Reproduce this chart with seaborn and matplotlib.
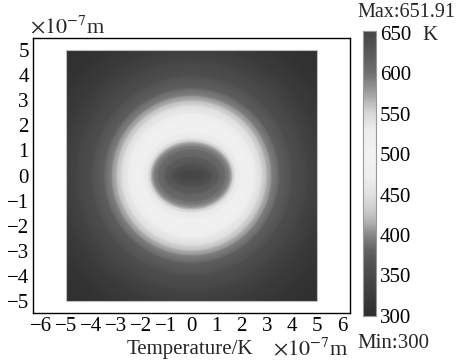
import numpy as np
import matplotlib
matplotlib.use('Agg')
import matplotlib.pyplot as plt
import seaborn as sns
from matplotlib.colors import LinearSegmentedColormap
from matplotlib.patches import Rectangle

# =========================
# DATA
# =========================

# temperature levels (K) from the hot centre outwards, with the
# half-width (x) and half-height (y) of each level, in 1e-7 m
temp_levels = [651, 645, 632, 615, 600, 590, 575, 555, 535, 515, 495,
               470, 445, 420, 400, 380, 360, 340, 322, 310, 302]
half_width = [0.0, 0.45, 0.8, 1.1, 1.35, 1.5, 1.58, 1.65, 1.75, 1.95, 2.25,
              2.55, 2.8, 3.0, 3.2, 3.5, 4.0, 4.6, 5.2, 6.0, 7.2]
half_height = [0.0, 0.2, 0.45, 0.75, 1.05, 1.2, 1.3, 1.38, 1.5, 1.75, 2.1,
               2.5, 2.8, 3.0, 3.2, 3.5, 4.0, 4.6, 5.2, 6.0, 7.2]

t_min = 300
t_max = 651.91
cbar_ticks = [300, 350, 400, 450, 500, 550, 600, 650]
x_ticks = [-6, -5, -4, -3, -2, -1, 0, 1, 2, 3, 4, 5, 6]
y_ticks = [-5, -4, -3, -2, -1, 0, 1, 2, 3, 4, 5]

# grey levels of the colour bar
cmap_temps = [300, 320, 340, 360, 380, 400, 415, 430, 450, 470, 500,
              530, 550, 560, 575, 600, 625, 651.91]
cmap_greys = [0.18, 0.23, 0.27, 0.31, 0.38, 0.53, 0.69, 0.80, 0.88, 0.93, 0.95,
              0.93, 0.85, 0.77, 0.63, 0.44, 0.35, 0.27]

# =========================
# STYLE
# =========================

sns.set_theme(style='white')
plt.rcParams['font.family'] = ['Liberation Serif', 'DejaVu Serif']
plt.rcParams['mathtext.fontset'] = 'stix'
FS = 15

stops = [((t - t_min) / (t_max - t_min), (g, g, g))
         for t, g in zip(cmap_temps, cmap_greys)]
grey_map = LinearSegmentedColormap.from_list('temp_grey', stops)

# =========================
# FIGURE
# =========================

fig = plt.figure(figsize=(4.57, 3.64), dpi=100)
ax = fig.add_axes([0.0722, 0.140, 0.6938, 0.7556])
cax = fig.add_axes([0.794, 0.1319, 0.0284, 0.783])

theta = np.linspace(0, 2 * np.pi, 241)
X = np.array(half_width)[:, None] * np.cos(theta)[None, :]
Y = np.array(half_height)[:, None] * np.sin(theta)[None, :]
C = np.repeat(np.array(temp_levels, dtype=float)[:, None], len(theta), axis=1)

mesh = ax.pcolormesh(X, Y, C, shading='gouraud', cmap=grey_map,
                     vmin=t_min, vmax=t_max, rasterized=True)
box = Rectangle((-5, -5), 10, 10, transform=ax.transData)
mesh.set_clip_path(box)
ax.add_patch(Rectangle((-5, -5), 10, 10, fill=False, edgecolor='0.75', lw=0.8))

ax.set_xlim(-6.31, 6.31)
ax.set_ylim(-5.48, 5.48)
ax.set_xticks(x_ticks)
ax.set_yticks(y_ticks)
ax.tick_params(length=0, labelsize=FS, pad=3, colors='black')
for s in ax.spines.values():
    s.set_visible(True)
    s.set_color('black')
    s.set_linewidth(1.0)

# colour bar
cb = fig.colorbar(mesh, cax=cax, ticks=cbar_ticks)
cb.outline.set_edgecolor('0.6')
cb.outline.set_linewidth(0.8)
cax.tick_params(direction='in', left=True, right=True, length=3, width=0.8,
                color='0.55', labelsize=FS, pad=3, labelcolor='black')

# =========================
# TEXT
# =========================

fig.text(0.066, 0.926, r'$\times10^{-7}$m', fontsize=FS + 1, va='center', ha='left')
fig.text(0.416, 0.040, 'Temperature/K', fontsize=FS, va='center', ha='center')
fig.text(0.762, 0.040, r'$\times10^{-7}$m', fontsize=FS + 1, va='center', ha='right')
fig.text(0.996, 0.967, 'Max:651.91', fontsize=FS - 0.5, va='center', ha='right')
fig.text(0.781, 0.055, 'Min:300', fontsize=FS, va='center', ha='left')
fig.text(0.924, 0.909, 'K', fontsize=FS, va='center_baseline', ha='left')

fig.savefig('out.png', dpi=100)
